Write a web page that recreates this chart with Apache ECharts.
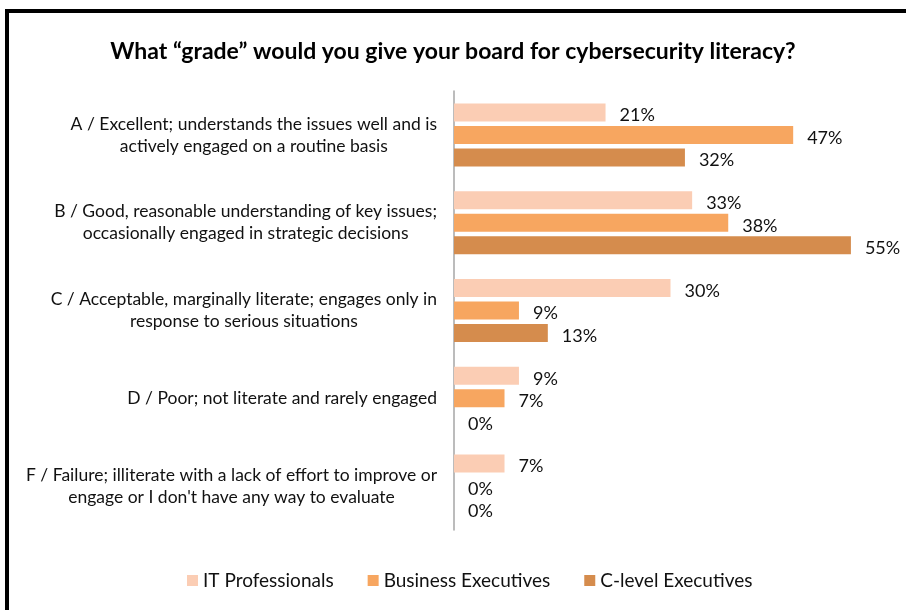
<!DOCTYPE html>
<html>
<head>
<meta charset="utf-8">
<script src="https://cdn.jsdelivr.net/npm/echarts@6/dist/echarts.min.js"></script>
<style>
  html, body { margin: 0; padding: 0; background: #fff; }
  #wrap { position: relative; width: 906px; height: 610px; overflow: hidden; }
  #chart { position: absolute; left: 0; top: 0; width: 906px; height: 610px; }
  #frame { position: absolute; left: 5px; top: 9px; width: 910px; height: 620px;
           border-top: 4px solid #000; border-left: 4px solid #000; pointer-events: none; }
</style>
</head>
<body>
<div id="wrap">
  <div id="chart"></div>
  <div id="frame"></div>
</div>
<script>
// Survey answers, one category per grade
const categories = [
  ['A / Excellent; understands the issues well and is', 'actively engaged on a routine basis'],
  ['B / Good, reasonable understanding of key issues;', 'occasionally engaged in strategic decisions'],
  ['C / Acceptable, marginally literate; engages only in', 'response to serious situations'],
  ['D / Poor; not literate and rarely engaged'],
  ['F / Failure; illiterate with a lack of effort to improve or', "engage or I don't have any way to evaluate"]
];

// Share of respondents (%) per group
const itProfessionals    = [21, 33, 30, 9, 7];
const businessExecutives = [47, 38, 9, 7, 0];
const cLevelExecutives   = [32, 55, 13, 0, 0];

const seriesNames  = ['IT Professionals', 'Business Executives', 'C-level Executives'];
const seriesColors = ['#FBCDB4', '#F7A660', '#D58C4D'];

const FONT = 'Lato, "Open Sans", sans-serif';

// Each label line is wrapped in a centered rich token so lines centre within the block
const labelText = categories.map(lines => lines.map(l => '{c|' + l + '}').join('\n'));

function barSeries(name, data, color) {
  return {
    name: name,
    type: 'bar',
    data: data,
    barWidth: 18,
    barGap: '25%',
    itemStyle: { color: color },
    label: {
      show: true,
      position: 'right',
      distance: 14,
      offset: [0, 3],
      formatter: p => p.value + '%',
      color: '#111',
      fontFamily: FONT,
      fontSize: 18
    }
  };
}

const chart = echarts.init(document.getElementById('chart'), null, { renderer: 'canvas' });
chart.setOption({
  animation: false,
  backgroundColor: '#fff',
  title: {
    text: 'What \u201Cgrade\u201D would you give your board for cybersecurity literacy?',
    left: 'center',
    top: 35,
    textStyle: { fontFamily: FONT, fontSize: 23, fontWeight: 'bold', color: '#000' }
  },
  legend: {
    data: seriesNames,
    bottom: 15,
    left: 182,
    itemWidth: 11,
    itemHeight: 11,
    itemGap: 34,
    icon: 'rect',
    textStyle: { fontFamily: FONT, fontSize: 19, color: '#111' }
  },
  grid: { left: 454, right: 19, top: 91, bottom: 80, containLabel: false },
  xAxis: {
    type: 'value',
    min: 0,
    max: 60,
    show: false
  },
  yAxis: {
    type: 'category',
    inverse: true,
    data: labelText,
    axisLine: { show: true, lineStyle: { color: '#A6A6A6', width: 1.5 } },
    axisTick: { show: false },
    axisLabel: {
      margin: 17,
      align: 'right',
      color: '#111',
      fontFamily: FONT,
      fontSize: 17.5,
      lineHeight: 22,
      rich: { c: { align: 'center', fontFamily: FONT, fontSize: 17.5, lineHeight: 22, color: '#111' } }
    }
  },
  series: [
    barSeries(seriesNames[0], itProfessionals, seriesColors[0]),
    barSeries(seriesNames[1], businessExecutives, seriesColors[1]),
    barSeries(seriesNames[2], cLevelExecutives, seriesColors[2])
  ]
});
</script>
</body>
</html>
